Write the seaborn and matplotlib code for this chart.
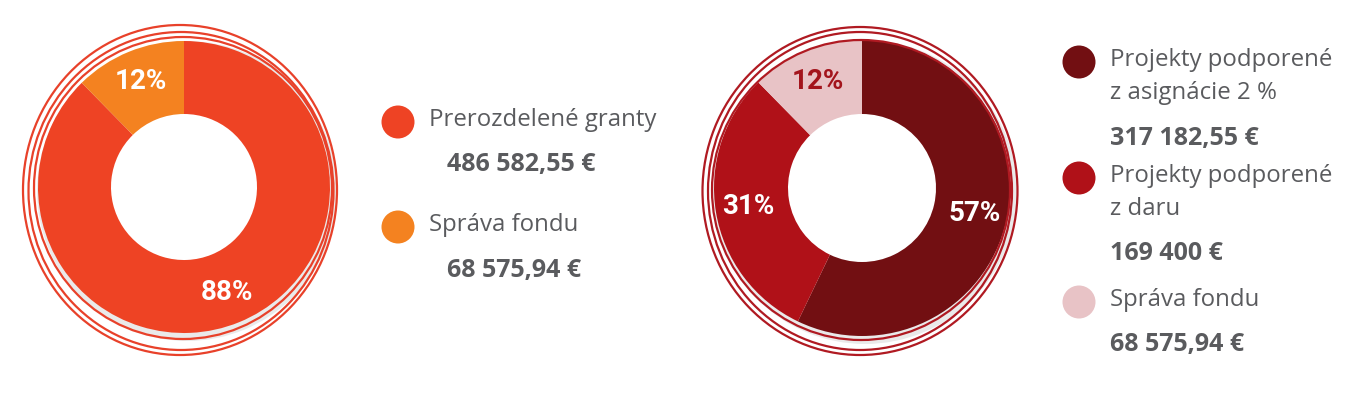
import matplotlib.pyplot as plt
import seaborn as sns
from matplotlib.patches import Ellipse, Circle, Wedge

# ===============================
# Data
# ===============================
left_labels = ["Prerozdelené granty", "Správa fondu"]
left_amounts = [486582.55, 68575.94]
left_amount_text = ["486 582,55 €", "68 575,94 €"]
left_colors = ["#EE4324", "#F48220"]
left_pct_colors = ["white", "white"]

right_labels = ["Projekty podporené\nz asignácie 2 %", "Projekty podporené\nz daru", "Správa fondu"]
right_amounts = [317182.55, 169400, 68575.94]
right_amount_text = ["317 182,55 €", "169 400 €", "68 575,94 €"]
right_colors = ["#720F12", "#B01118", "#E8C3C6"]
right_pct_colors = ["white", "white", "#A3141C"]

sns.set_style("white")
plt.rcParams["font.family"] = ["Open Sans", "DejaVu Sans"]

W, H = 1362, 401
fig = plt.figure(figsize=(W / 100, H / 100), dpi=100)
ax = fig.add_axes([0, 0, 1, 1])

TXT = "#5A5B5E"


def yy(y):
    # pixel row -> data y (y axis points up)
    return H - y


def donut(cx, cy, r, amounts, colors, pct_colors, ring_color, rings):
    # soft shadow ring behind the donut
    ax.add_patch(Wedge((cx + 3, yy(cy) - 4), r + 4, 0, 360, width=r * 0.45,
                       color="#dcdcdc", alpha=0.6, linewidth=0, zorder=0))
    wedges, _, autotexts = ax.pie(
        amounts, colors=colors, startangle=90, counterclock=False,
        center=(cx, yy(cy)), radius=r, frame=True,
        wedgeprops=dict(width=r * 0.5, linewidth=0),
        autopct=lambda p: f"{round(p)}%", pctdistance=0.78,
    )
    for t, c in zip(autotexts, pct_colors):
        t.set_color(c)
        t.set_fontsize(20)
        t.set_fontweight("bold")
        t.set_family(["Roboto", "DejaVu Sans"])
    for dx, dy, w, h in rings:
        ax.add_patch(Ellipse((cx + dx, yy(cy + dy)), w, h, fill=False,
                             edgecolor=ring_color, linewidth=1.6, zorder=3))


donut(184, 187, 146, left_amounts, left_colors, left_pct_colors, "#E8412A",
      [(-4, 3, 314, 330), (-3, 4, 305, 318), (-1, 1, 298, 302)])
donut(862, 188, 148, right_amounts, right_colors, right_pct_colors, "#B01A22",
      [(-2, 3, 315, 328), (-2, 3, 304, 318), (-1, 2, 298, 300)])

# ===============================
# Legends
# ===============================
def legend_item(x, y, color, label, amount, gap):
    ax.add_patch(Circle((x, yy(y)), 16.5, color=color, linewidth=0))
    lines = label.split("\n")
    for i, line in enumerate(lines):
        ax.text(x + 31, yy(y - 2 + i * 33), line, fontsize=17.3, color=TXT,
                va="center", ha="left")
    ax.text(x + 31 + gap, yy(y + (len(lines) - 1) * 33 + 43), amount, fontsize=18,
            fontweight="bold", color=TXT, va="center", ha="left")


for y, c, lab, amt in zip([122, 227], left_colors, left_labels, left_amount_text):
    legend_item(398, y, c, lab, amt, 18)

for y, c, lab, amt in zip([62, 178, 302], right_colors, right_labels, right_amount_text):
    legend_item(1079, y, c, lab, amt, 0)

ax.set_xlim(0, W)
ax.set_ylim(0, H)
ax.set_aspect("equal")
ax.axis("off")

fig.savefig("out.png", dpi=100, facecolor="white")
